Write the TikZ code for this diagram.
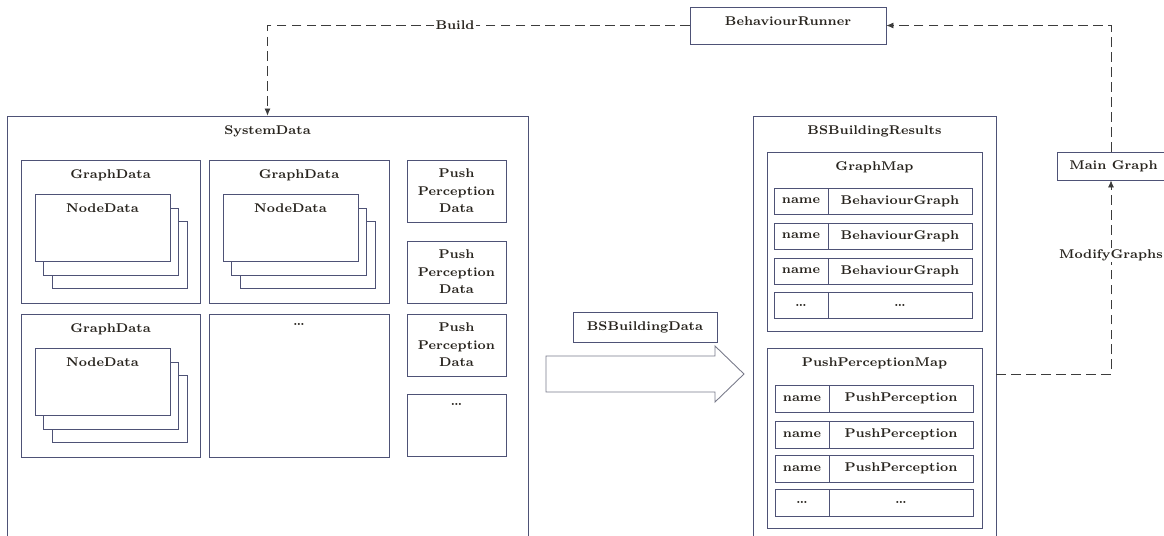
\documentclass[tikz,border=0pt]{standalone}
\usepackage{xcolor}
\usepackage{tikz}
\usetikzlibrary{arrows.meta, positioning, fit}
\definecolor{framec}{RGB}{78,82,118}
\definecolor{txtc}{RGB}{40,36,30}
\definecolor{linkc}{RGB}{60,60,60}
\definecolor{flowc}{RGB}{120,122,138}

\begin{document}
\begin{tikzpicture}[x=0.02cm, y=-0.02cm,
  lbl/.style={font=\fontsize{7.2}{10}\selectfont\bfseries, text=txtc, inner sep=1pt, align=center},
  frame/.style={draw=framec, fill=white, inner sep=0pt, line width=0.5pt},
  titled/.style={label={[lbl, anchor=north, yshift=-4.3pt]north:#1}},
  named/.style={label={[lbl]center:#1}},
  link/.style={draw=linkc, line width=0.45pt, dash pattern=on 5.5pt off 3pt},
  tip/.style={-{Latex[length=4pt,width=3.5pt]}}
]
  \useasboundingbox (0,0) rectangle (1164,535);

  % runner and main graph
  \node[frame, titled=BehaviourRunner, fit={(690,7) (886,44)}] (runner) {};
  \node[frame, named=Main Graph, fit={(1057,152) (1170,180)}] (maingraph) {};

  % system data
  \node[frame, titled=SystemData, fit={(7,116) (528,545)}] (sys) {};
  \node[frame, titled=GraphData, fit={(21,160) (200,303)}] (gd1) {};
  \node[frame, titled=GraphData, fit={(209,160) (389,303)}] (gd2) {};
  \node[frame, titled=GraphData, fit={(21,314) (200,457)}] (gd3) {};
  \node[frame, titled=\ldots, fit={(209,314) (389,457)}] (gd4) {};
  \foreach \gx/\gy [count=\i] in {21/160, 209/160, 21/314} {
    \node[frame, fit={(\gx+31,\gy+61) (\gx+166,\gy+128)}] (nd\i c) {};
    \node[frame, fit={(\gx+22,\gy+48) (\gx+157,\gy+115)}] (nd\i b) {};
    \node[frame, titled=NodeData, fit={(\gx+14,\gy+34) (\gx+149,\gy+101)}] (nd\i a) {};
  }
  \node[frame, named={Push\\Perception\\Data}, fit={(407,160) (506,222)}] (pp1) {};
  \node[frame, named={Push\\Perception\\Data}, fit={(407,241) (506,303)}] (pp2) {};
  \node[frame, named={Push\\Perception\\Data}, fit={(407,314) (506,376)}] (pp3) {};
  \node[frame, titled=\ldots, fit={(407,394) (506,456)}] (pp4) {};

  % transfer
  \node[frame, named=BSBuildingData, fit={(573,312) (717,342)}] (bsdata) {};
  \draw[draw=flowc, line width=0.5pt] (546,356) -- (715,356) -- (715,346) -- (744,374)
    -- (715,402) -- (715,392) -- (546,392) -- cycle;

  % results
  \node[frame, titled=BSBuildingResults, fit={(753,116) (996,545)}] (res) {};
  \node[frame, titled=GraphMap, fit={(767,152) (982,331)}] (gmap) {};
  \foreach \t/\k/\v [count=\i] in {188/name/BehaviourGraph, 223/name/BehaviourGraph,
      258/name/BehaviourGraph, 292/\ldots/\ldots} {
    \node[frame, named=\k, fit={(774,\t) (828,\t+26)}] (gk\i) {};
    \node[frame, named=\v, fit={(828,\t) (972,\t+26)}] (gv\i) {};
  }
  \node[frame, titled=PushPerceptionMap, fit={(767,348) (982,528)}] (pmap) {};
  \foreach \t/\k/\v [count=\i] in {385/name/PushPerception, 421/name/PushPerception,
      455/name/PushPerception, 489/\ldots/\ldots} {
    \node[frame, named=\k, fit={(775,\t) (829,\t+27)}] (pk\i) {};
    \node[frame, named=\v, fit={(829,\t) (973,\t+27)}] (pv\i) {};
  }

  % connectors
  \coordinate (mod) at (1111,374);
  \draw[link, tip] (runner.west) -| (sys.north);
  \node[lbl, fill=white] (buildlbl) at (455,25) {Build};
  \draw[link, tip] (res.east |- mod) -- (mod) -- (mod |- maingraph.south);
  \node[lbl, fill=white] (modlbl) at (1111,255) {ModifyGraphs};
  \draw[link, tip] (mod |- maingraph.north) -- (mod |- runner.east) -- (runner.east);
\end{tikzpicture}
\end{document}
